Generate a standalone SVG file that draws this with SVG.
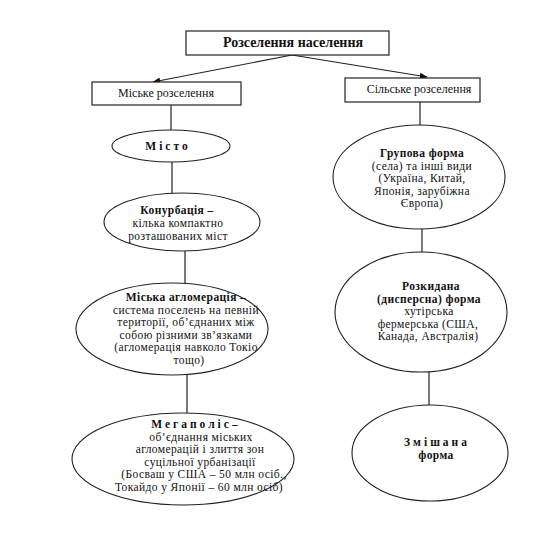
<svg xmlns="http://www.w3.org/2000/svg" width="542" height="534" viewBox="0 0 542 534">
<defs>
<marker id="ah" viewBox="0 0 10 10" refX="9" refY="5" markerWidth="8" markerHeight="8" orient="auto" markerUnits="userSpaceOnUse">
<path d="M0,1 L10,5 L0,9 z" fill="#111"/>
</marker>
<style>
.box{fill:#fff;stroke:#222;stroke-width:1.2}
.el{fill:#fff;stroke:#222;stroke-width:1.1}
.ln{stroke:#222;stroke-width:1.2;fill:none}
text{font-size:11.5px;letter-spacing:0.4px;fill:#111;text-anchor:middle}
.lb{font-size:12px;letter-spacing:0}
.b{font-weight:bold}
.t{font-size:14px;font-weight:bold;letter-spacing:0}
.sp{letter-spacing:3px}
</style>
</defs>
<rect width="542" height="534" fill="#fff"/>
<g id="connectors">
<line class="ln" x1="292" y1="55" x2="153" y2="82" marker-end="url(#ah)"/>
<line class="ln" x1="292" y1="55" x2="427" y2="77" marker-end="url(#ah)"/>
<line class="ln" x1="171" y1="105" x2="171" y2="130"/>
<line class="ln" x1="172" y1="162" x2="172" y2="193"/>
<line class="ln" x1="185" y1="251" x2="185" y2="284"/>
<line class="ln" x1="187" y1="375" x2="187" y2="413"/>
<line class="ln" x1="420" y1="102" x2="420" y2="125"/>
<line class="ln" x1="422" y1="229" x2="422" y2="253"/>
<line class="ln" x1="429" y1="372" x2="429" y2="405"/>
</g>
<g font-family="'Liberation Serif', 'DejaVu Serif', serif">
<g id="root">
<rect class="box" x="186" y="31" width="203" height="24"/>
<text class="t" x="293" y="47">Розселення населення</text>
</g>
<g id="urban">
<rect class="box" x="92" y="82" width="149" height="23"/>
<text class="lb" x="166" y="97">Міське розселення</text>
</g>
<g id="rural">
<rect class="box" x="345" y="78" width="135" height="24"/>
<text class="lb" x="419" y="93">Сільське розселення</text>
</g>
<g id="misto">
<ellipse class="el" cx="171" cy="146" rx="59" ry="16"/>
<text class="b sp" x="168" y="150">Місто</text>
</g>
<g id="konurbatsiia">
<ellipse class="el" cx="182" cy="222" rx="78" ry="29"/>
<text class="b" x="177" y="214">Конурбація –</text>
<text x="178" y="227">кілька компактно</text>
<text x="178" y="240">розташованих міст</text>
</g>
<g id="aglomeratsiia">
<ellipse class="el" cx="172" cy="329" rx="96" ry="46"/>
<text class="b" x="186" y="301">Міська агломерація –</text>
<text x="186" y="313.5">система поселень на певній</text>
<text x="186" y="326">території, об’єднаних між</text>
<text x="186" y="338.5">собою різними зв’язками</text>
<text x="186" y="351">(агломерація навколо Токіо</text>
<text x="189" y="363.5">тощо)</text>
</g>
<g id="megapolis">
<ellipse class="el" cx="183" cy="459" rx="111" ry="46"/>
<text class="b sp" x="196" y="428">Мегаполіс–</text>
<text x="201" y="440.5">об’єднання міських</text>
<text x="200" y="453">агломерацій і злиття зон</text>
<text x="200" y="465.5">суцільної урбанізації</text>
<text x="204" y="478">(Босваш у США – 50 млн осіб.,</text>
<text x="199" y="490.5">Токайдо у Японії – 60 млн осіб)</text>
</g>
<g id="grupova">
<ellipse class="el" cx="419" cy="177" rx="86" ry="52"/>
<text class="b" x="422" y="157">Групова форма</text>
<text x="422" y="169.5">(села) та інші види</text>
<text x="422" y="182">(Україна, Китай,</text>
<text x="422" y="194.5">Японія, зарубіжна</text>
<text x="422" y="207">Європа)</text>
</g>
<g id="rozkydana">
<ellipse class="el" cx="421" cy="312" rx="86" ry="60"/>
<text class="b" x="431" y="290">Розкидана</text>
<text class="b" x="429" y="302.5">(дисперсна) форма</text>
<text x="429" y="315">хутірська</text>
<text x="428" y="327.5">фермерська (США,</text>
<text x="428" y="340">Канада, Австралія)</text>
</g>
<g id="zmishana">
<ellipse class="el" cx="430" cy="453" rx="78" ry="48"/>
<text class="b sp" x="437" y="446">Змішана</text>
<text class="b" x="436" y="459">форма</text>
</g>
</g>
</svg>
